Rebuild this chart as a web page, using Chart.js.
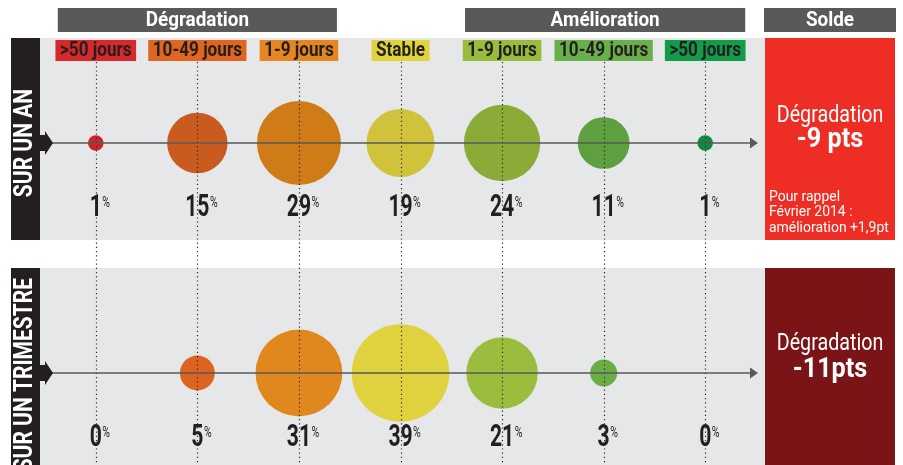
<!DOCTYPE html>
<html>
<head>
<meta charset="utf-8">
<script src="https://cdn.jsdelivr.net/npm/chart.js@4/dist/chart.umd.min.js"></script>
<style>
  html, body { margin: 0; padding: 0; background: #fff; }
  #wrap { width: 903px; height: 465px; }
</style>
</head>
<body>
<div id="wrap"><canvas id="chart" width="903" height="465"></canvas></div>
<script>
// données
const categories = ['>50 jours', '10-49 jours', '1-9 jours', 'Stable', '1-9 jours', '10-49 jours', '>50 jours'];
const surUnAn = [1, 15, 29, 19, 24, 11, 1];
const surUnTrimestre = [0, 5, 31, 39, 21, 3, 0];
const groupHeaders = ['Dégradation', 'Amélioration', 'Solde'];
const rowLabels = ['SUR UN AN', 'SUR UN TRIMESTRE'];
const soldeAn = ['Dégradation', '-9 pts'];
const soldeTrimestre = ['Dégradation', '-11pts'];
const rappel = ['Pour rappel', 'Février 2014 :', 'amélioration +1,9pt'];

// couleurs
const labelColors = ['#d7282a', '#df6520', '#e5861f', '#e0d43a', '#98bc3c', '#6ab04a', '#139b48'];
const topColors = ['#c8262c', '#c95b1e', '#cf7b18', '#d0c23b', '#8aab38', '#5e9f3f', '#0f8a3e'];
const bottomColors = ['#d92a2a', '#dc6320', '#e0871e', '#e0d23e', '#9bbd3e', '#69ae45', '#129a48'];
const headerBg = '#58595b';
const panelBg = '#e6e7e8';
const darkBar = '#231f20';
const soldeColors = ['#ee2d24', '#7b1416'];

// surface proportionnelle à la valeur
function radius(v) { return 7.8 * Math.sqrt(v); }

function toPoints(values, row) {
    return values.map((v, i) => ({ x: i, y: row, r: radius(v), v: v }));
}

// texte "condensé" : on écrase horizontalement
function txt(ctx, s, x, y, font, color, align, sx) {
    ctx.save();
    ctx.translate(x, y);
    ctx.scale(sx, 1);
    ctx.font = font;
    ctx.fillStyle = color;
    ctx.textAlign = align || 'center';
    ctx.textBaseline = 'middle';
    ctx.fillText(s, 0, 0);
    ctx.restore();
}

function txtWidth(ctx, s, font, sx) {
    ctx.save();
    ctx.font = font;
    const w = ctx.measureText(s).width * sx;
    ctx.restore();
    return w;
}

const decor = {
    id: 'decor',
    beforeDatasetsDraw(chart) {
        const ctx = chart.ctx;
        const xs = chart.scales.x;
        const ys = chart.scales.y;
        const area = chart.chartArea;
        const W = chart.width, H = chart.height;
        const rowTop = ys.getPixelForValue(1);
        const soldeL = area.right + 9, soldeR = W - 8;

        ctx.save();
        // panneaux gris
        ctx.fillStyle = panelBg;
        ctx.fillRect(40, 38, soldeL - 40, 202);
        ctx.fillRect(40, 268, soldeL - 40, H - 268);

        // barres noires à gauche
        ctx.fillStyle = darkBar;
        ctx.fillRect(11, 38, 29, 202);
        ctx.fillRect(11, 268, 29, H - 268);

        // en-têtes de groupe
        const spans = [[xs.getPixelForValue(0) - 38, xs.getPixelForValue(2) + 38],
                       [xs.getPixelForValue(4) - 37, xs.getPixelForValue(6) + 40],
                       [soldeL - 1, soldeR + 1]];
        spans.forEach((s, i) => {
            ctx.fillStyle = headerBg;
            ctx.fillRect(s[0], 8, s[1] - s[0], 24);
            txt(ctx, groupHeaders[i], (s[0] + s[1]) / 2, 20.5, 'bold 21px Roboto', '#fff', 'center', 0.9);
        });

        // étiquettes de catégories
        const lf = 'bold 19.5px Roboto';
        categories.forEach((c, i) => {
            const cx = xs.getPixelForValue(i);
            const w = txtWidth(ctx, c, lf, 0.88) + 9;
            ctx.fillStyle = labelColors[i];
            ctx.fillRect(cx - w / 2, 40, w, 21);
            txt(ctx, c, cx, 51, lf, darkBar, 'center', 0.88);
        });

        // libellés verticaux
        [[rowLabels[0], rowTop, 'center', 38], [rowLabels[1], 278, 'right', 268]].forEach(r => {
            ctx.save();
            ctx.beginPath();
            ctx.rect(11, r[3], 29, 202);
            ctx.clip();
            ctx.translate(26, r[1]);
            ctx.rotate(-Math.PI / 2);
            txt(ctx, r[0], 0, 0, 'bold 25px Roboto', '#fff', r[2], 0.84);
            ctx.restore();
        });

        // colonnes "Solde"
        ctx.fillStyle = soldeColors[0];
        ctx.fillRect(soldeL, 38, soldeR - soldeL, 202);
        ctx.fillStyle = soldeColors[1];
        ctx.fillRect(soldeL, 268, soldeR - soldeL, H - 268);
        const sc = (soldeL + soldeR) / 2;
        txt(ctx, soldeAn[0], sc, 116, '24px Roboto', '#fff', 'center', 0.82);
        txt(ctx, soldeAn[1], sc, 140, 'bold 28px Roboto', '#fff', 'center', 0.9);
        rappel.forEach((l, i) => txt(ctx, l, soldeL + 4, 197 + i * 15.5, '15px Roboto', '#fff', 'left', 0.93));
        txt(ctx, soldeTrimestre[0], sc, 344, '24px Roboto', '#fff', 'center', 0.82);
        txt(ctx, soldeTrimestre[1], sc, 370, 'bold 28px Roboto', '#fff', 'center', 0.9);
        ctx.restore();
    },
    afterDatasetsDraw(chart) {
        const ctx = chart.ctx;
        const xs = chart.scales.x;
        const ys = chart.scales.y;
        const area = chart.chartArea;
        const H = chart.height;
        ctx.save();

        // pointillés verticaux
        ctx.strokeStyle = '#2b2b2b';
        ctx.lineWidth = 1.2;
        ctx.setLineDash([1.2, 3]);
        categories.forEach((c, i) => {
            const x = Math.round(xs.getPixelForValue(i)) + 0.5;
            ctx.beginPath();
            ctx.moveTo(x, 62);
            ctx.lineTo(x, H);
            ctx.stroke();
        });
        ctx.setLineDash([]);

        // axes horizontaux avec flèches
        [1, 0].forEach(row => {
            const y = ys.getPixelForValue(row);
            ctx.strokeStyle = '#58595b';
            ctx.lineWidth = 1.5;
            ctx.beginPath();
            ctx.moveTo(45, y);
            ctx.lineTo(area.right - 4, y);
            ctx.stroke();
            ctx.fillStyle = '#58595b';
            ctx.beginPath();
            ctx.moveTo(area.right - 6, y - 5.5);
            ctx.lineTo(area.right + 2, y);
            ctx.lineTo(area.right - 6, y + 5.5);
            ctx.closePath();
            ctx.fill();
            ctx.fillStyle = darkBar;
            ctx.beginPath();
            ctx.moveTo(40, y - 8);
            ctx.lineTo(45, y - 8);
            ctx.lineTo(45, y - 12);
            ctx.lineTo(53, y);
            ctx.lineTo(45, y + 12);
            ctx.lineTo(45, y + 8);
            ctx.lineTo(40, y + 8);
            ctx.closePath();
            ctx.fill();
        });

        // pourcentages
        chart.data.datasets.forEach(ds => {
            ds.data.forEach(p => {
                const x = xs.getPixelForValue(p.x);
                const y = ys.getPixelForValue(p.y) + 65;
                const nf = 'bold 32px Roboto';
                const s = String(p.v);
                const w = txtWidth(ctx, s, nf, 0.66);
                txt(ctx, s, x, y, nf, darkBar, 'center', 0.66);
                txt(ctx, '%', x + w / 2 + 0.5, y - 5, '15px Roboto', darkBar, 'left', 0.7);
            });
        });
        ctx.restore();
    }
};

new Chart(document.getElementById('chart'), {
    type: 'bubble',
    data: {
        datasets: [
            { label: rowLabels[0], data: toPoints(surUnAn, 1), backgroundColor: topColors, borderWidth: 0, hoverRadius: 0 },
            { label: rowLabels[1], data: toPoints(surUnTrimestre, 0), backgroundColor: bottomColors, borderWidth: 0, hoverRadius: 0 }
        ]
    },
    options: {
        responsive: false,
        animation: false,
        layout: { autoPadding: false, padding: { left: 45, right: 147, top: 28, bottom: 0 } },
        scales: {
            x: { type: 'linear', min: -0.5, max: 6.5, display: false },
            y: { type: 'linear', min: -0.4, max: 1.5, display: false }
        },
        plugins: {
            legend: { display: false },
            tooltip: { enabled: false }
        }
    },
    plugins: [decor]
});
</script>
</body>
</html>
